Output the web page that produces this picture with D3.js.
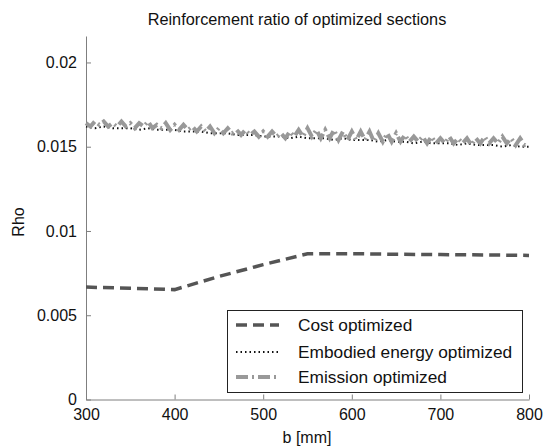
<!DOCTYPE html>
<html><head><meta charset="utf-8">
<script src="https://cdn.jsdelivr.net/npm/d3@7"></script>
<style>body{margin:0;background:#fff}svg{display:block;font-family:"Liberation Sans",Arial,sans-serif}</style>
</head><body><svg id="c" width="546" height="448"></svg>
<script>
const seriesNames = ["Cost optimized","Embodied energy optimized","Emission optimized"];
const xTicks = [300,400,500,600,700,800];
const yTicks = [0,0.005,0.01,0.015,0.02];
const yTickLabels = ["0","0.005","0.01","0.015","0.02"];

const costB = [300,350,400,450,500,550,600,650,700,750,800];
const costRho = [0.00667,0.00660,0.00652,0.00730,0.00800,0.00865,0.00865,0.00862,0.00860,0.00858,0.00855];

const energyB = [300,310,320,330,340,350,360,370,380,390,400,410,420,430,440,450,460,470,480,490,500,510,520,530,540,550,560,570,580,590,600,610,620,630,640,650,660,670,680,690,700,710,720,730,740,750,760,770,780,790,800];
const energyRho = [.0162,.0161,.0162,.0161,.0161,.0161,.0160,.0161,.0160,.0160,.0160,.0159,.0159,.0159,.0158,.0158,.0158,.0157,.0157,.0157,.0156,.0156,.0156,.0155,.0156,.0155,.0155,.0155,.0154,.0155,.0154,.0154,.0154,.0153,.0154,.0153,.0153,.0152,.0153,.0152,.0152,.0152,.0151,.0152,.0151,.0151,.0151,.0150,.0151,.0150,.0150];

const emissionB = [300,305,310,315,320,325,330,335,340,345,350,355,360,365,370,375,380,385,390,395,400,405,410,415,420,425,430,435,440,445,450,455,460,465,470,475,480,485,490,495,500,505,510,515,520,525,530,535,540,545,550,555,560,565,570,575,580,585,590,595,600,605,610,615,620,625,630,635,640,645,650,655,660,665,670,675,680,685,690,695,700,705,710,715,720,725,730,735,740,745,750,755,760,765,770,775,780,785,790,795,800];
const emissionRho = [.0164,.0162,.0165,.0163,.0165,.0162,.0164,.0162,.0165,.0162,.0164,.0161,.0164,.0162,.0165,.0161,.0163,.0161,.0164,.0160,.0163,.0160,.0163,.0160,.0162,.0159,.0162,.0159,.0162,.0158,.0161,.0158,.0161,.0158,.0160,.0157,.0160,.0157,.0159,.0156,.0159,.0156,.0159,.0156,.0158,.0155,.0159,.0156,.0160,.0156,.0161,.0156,.0160,.0155,.0160,.0155,.0160,.0154,.0159,.0154,.0159,.0154,.0159,.0154,.0159,.0153,.0158,.0153,.0158,.0153,.0158,.0153,.0157,.0153,.0156,.0153,.0156,.0152,.0156,.0152,.0155,.0152,.0156,.0152,.0155,.0152,.0155,.0151,.0155,.0152,.0156,.0152,.0155,.0152,.0156,.0152,.0155,.0151,.0155,.0151,.0152];

const svg = d3.select("#c");
const L = 86, R = 529, T = 36, B = 399.5;
const x = d3.scaleLinear().domain([300,800]).range([L,R]);
const y = d3.scaleLinear().domain([0,0.02157]).range([B,T]);

const axisColor = "#7f7f7f";
const gx = svg.append("g").attr("transform",`translate(0,${B})`)
  .call(d3.axisBottom(x).tickValues(xTicks).tickSizeInner(-5).tickSizeOuter(0).tickPadding(9));
gx.select(".domain").attr("stroke",axisColor);
gx.selectAll(".tick line").attr("stroke",axisColor);
gx.selectAll(".tick text").attr("font-size",16).attr("fill","#111").attr("font-family","Liberation Sans, Arial, sans-serif");

const gy = svg.append("g").attr("transform",`translate(${L},0)`)
  .call(d3.axisLeft(y).tickValues(yTicks).tickFormat((d,i)=>yTickLabels[i]).tickSizeInner(-5).tickSizeOuter(0).tickPadding(9));
gy.select(".domain").attr("stroke",axisColor);
gy.selectAll(".tick line").attr("stroke",axisColor);
gy.selectAll(".tick text").attr("font-size",16).attr("fill","#111").attr("font-family","Liberation Sans, Arial, sans-serif");

svg.append("text").attr("x",297).attr("y",25).attr("text-anchor","middle").attr("font-size",16.3).attr("fill","#111").text("Reinforcement ratio of optimized sections");
svg.append("text").attr("x",307).attr("y",443).attr("text-anchor","middle").attr("font-size",16).attr("fill","#111").text("b [mm]");
svg.append("text").attr("transform","translate(24,222) rotate(-90)").attr("text-anchor","middle").attr("font-size",16).attr("fill","#111").text("Rho");

const line = d3.line().x(d=>x(d[0])).y(d=>y(d[1]));
const styles = [
  {stroke:"#555",width:3.5,dash:"11,6"},
  {stroke:"#111",width:2,dash:"1.5,3"},
  {stroke:"#999",width:4,dash:"12,4,2,4"}
];
svg.append("path").attr("d",line(d3.zip(costB,costRho))).attr("fill","none").attr("stroke",styles[0].stroke).attr("stroke-width",styles[0].width).attr("stroke-dasharray",styles[0].dash);
svg.append("path").attr("d",line(d3.zip(energyB,energyRho))).attr("fill","none").attr("stroke",styles[1].stroke).attr("stroke-width",styles[1].width).attr("stroke-dasharray",styles[1].dash);
svg.append("path").attr("d",line(d3.zip(emissionB,emissionRho))).attr("fill","none").attr("stroke",styles[2].stroke).attr("stroke-width",styles[2].width).attr("stroke-dasharray",styles[2].dash);

const lg = svg.append("g");
lg.append("rect").attr("x",227.5).attr("y",310.5).attr("width",295).attr("height",82).attr("fill","#fff").attr("stroke","#222").attr("stroke-width",1);
const ly = [325,352,377];
seriesNames.forEach((n,i)=>{
  lg.append("line").attr("x1",236).attr("x2",279).attr("y1",ly[i]).attr("y2",ly[i])
    .attr("stroke",styles[i].stroke).attr("stroke-width",styles[i].width).attr("stroke-dasharray",styles[i].dash);
  lg.append("text").attr("x",298).attr("y",ly[i]+6).attr("font-size",17.3).attr("fill","#111").text(n);
});
</script></body></html>
